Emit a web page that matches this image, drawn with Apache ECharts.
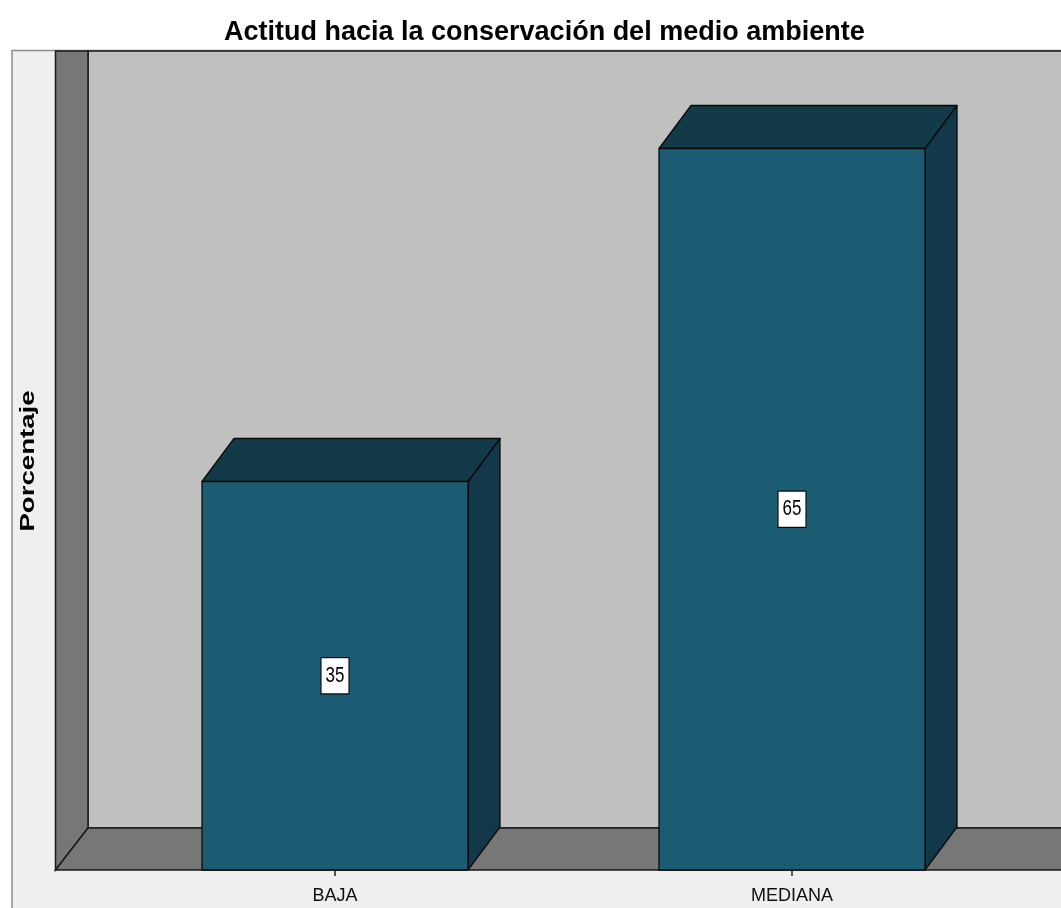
<!DOCTYPE html>
<html>
<head>
<meta charset="utf-8">
<title>Actitud hacia la conservación del medio ambiente</title>
<script src="https://cdn.jsdelivr.net/npm/echarts@6/dist/echarts.min.js"></script>
<style>
  html, body { margin: 0; padding: 0; background: #ffffff; }
  #chart { width: 1061px; height: 908px; }
</style>
</head>
<body>
<div id="chart"></div>
<script>
// Chart data
const categories = ['BAJA', 'MEDIANA'];
const percentages = [35, 65];
const chartTitle = 'Actitud hacia la conservación del medio ambiente';
const valueAxisName = 'Porcentaje';

// Styling
const FRONT = '#1c5c73';
const TOP = '#133a48';
const SIDE = '#12384a';
const EDGE = '#0a0a0a';
const DEPTH_X = 32;   // pixel offset of the 3D depth
const DEPTH_Y = 43;
const BAR_RATIO = 0.582;
const SANS = '"Liberation Sans", Arial, Helvetica, sans-serif';

const chart = echarts.init(document.getElementById('chart'), null, { renderer: 'canvas' });

// Draws one bar as a box: front face, top face, right side and a value tag
function renderBar3D(params, api) {
  const idx = api.value(0);
  const val = api.value(1);
  const base = api.coord([idx, 0]);
  const top = api.coord([idx, val]);
  const half = api.size([1, 0])[0] * BAR_RATIO / 2;
  const x0 = base[0] - half;
  const x1 = base[0] + half;
  const yb = base[1];
  const yt = top[1];
  const dx = DEPTH_X, dy = DEPTH_Y;
  const edge = { stroke: EDGE, lineWidth: 1.3, lineJoin: 'round' };
  return {
    type: 'group',
    children: [
      {
        type: 'polygon',
        shape: { points: [[x1, yb], [x1, yt], [x1 + dx, yt - dy], [x1 + dx, yb - dy]] },
        style: Object.assign({ fill: SIDE }, edge)
      },
      {
        type: 'polygon',
        shape: { points: [[x0, yt], [x0 + dx, yt - dy], [x1 + dx, yt - dy], [x1, yt]] },
        style: Object.assign({ fill: TOP }, edge)
      },
      {
        type: 'polygon',
        shape: { points: [[x0, yb], [x0, yt], [x1, yt], [x1, yb]] },
        style: Object.assign({ fill: FRONT }, edge)
      },
      {
        type: 'text',
        x: base[0],
        y: (yb + yt) / 2,
        scaleY: 1.3,
        style: {
          text: String(val),
          align: 'center',
          verticalAlign: 'middle',
          fontFamily: SANS,
          fontSize: 17,
          lineHeight: 17,
          fill: '#000',
          backgroundColor: '#ffffff',
          borderColor: '#000000',
          borderWidth: 1,
          padding: [5, 4, 5, 4]
        }
      }
    ]
  };
}

const option = {
  backgroundColor: '#ffffff',
  animation: false,
  title: {
    text: chartTitle,
    left: 219,
    top: 14,
    textStyle: { fontFamily: SANS, fontWeight: 'bold', fontSize: 27, color: '#000' }
  },
  grid: { left: 106.5, right: 40.5, top: 93, bottom: 38, containLabel: false },
  xAxis: {
    type: 'category',
    data: categories,
    axisLine: { show: false },
    axisTick: { show: true, alignWithLabel: true, length: 6, lineStyle: { color: '#222', width: 1.5 } },
    axisLabel: { fontFamily: SANS, fontSize: 18, color: '#111', margin: 17 },
    splitLine: { show: false }
  },
  yAxis: {
    type: 'value',
    min: 0,
    max: 70,
    show: false
  },
  graphic: [
    // outer panel
    {
      type: 'rect', z: -10,
      shape: { x: 12, y: 50.5, width: 1060, height: 870 },
      style: { fill: '#efefef', stroke: '#8c8c8c', lineWidth: 1.5 }
    },
    // back wall
    {
      type: 'rect', z: -9,
      shape: { x: 88, y: 51, width: 980, height: 777 },
      style: { fill: '#c0c0c0', stroke: '#1a1a1a', lineWidth: 1.5 }
    },
    // left side wall
    {
      type: 'polygon', z: -8,
      shape: { points: [[55.5, 51], [88, 51], [88, 828], [55.5, 870]] },
      style: { fill: '#777777', stroke: '#1a1a1a', lineWidth: 1.5 }
    },
    // floor
    {
      type: 'polygon', z: -8,
      shape: { points: [[55.5, 870], [88, 828], [1070, 828], [1070, 870]] },
      style: { fill: '#777777', stroke: '#1a1a1a', lineWidth: 1.5 }
    },
    // value axis title
    {
      type: 'text', z: 5,
      x: 28, y: 461,
      rotation: Math.PI / 2,
      scaleX: 1.38,
      style: {
        text: valueAxisName,
        align: 'center',
        verticalAlign: 'middle',
        fontFamily: SANS,
        fontWeight: 'bold',
        fontSize: 20,
        fill: '#000'
      }
    }
  ],
  series: [
    {
      type: 'custom',
      renderItem: renderBar3D,
      encode: { x: 0, y: 1 },
      clip: false,
      z: 5,
      data: categories.map((c, i) => [i, percentages[i]])
    }
  ]
};

chart.setOption(option);
</script>
</body>
</html>
